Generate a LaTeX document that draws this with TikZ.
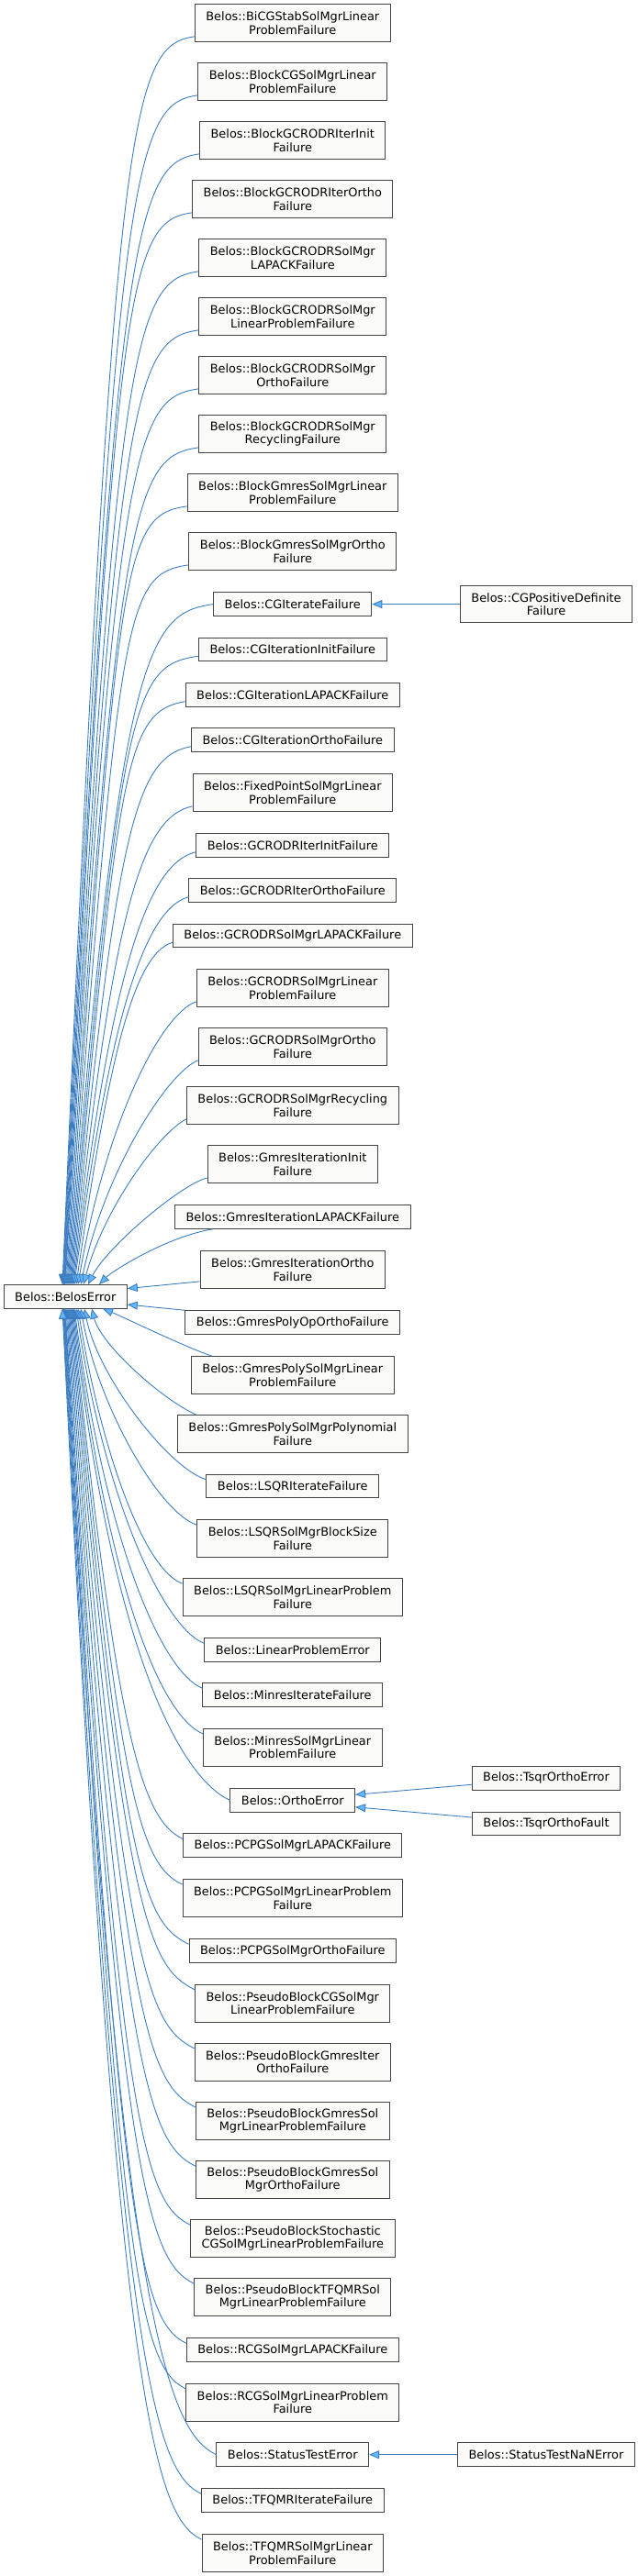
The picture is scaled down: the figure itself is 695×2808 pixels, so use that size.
\documentclass[tikz,border=0pt]{standalone}
\usepackage{fontspec}
\setmainfont{DejaVu Sans}
\usetikzlibrary{arrows.meta,calc}
\definecolor{edgeblue}{HTML}{3C7CC0}
\definecolor{headblue}{HTML}{63B8FF}
\definecolor{nodeborder}{HTML}{444444}
\definecolor{nodefill}{HTML}{FAFBF9}
\newcommand\beedge[7]{%
  \coordinate (tS) at #1;
  \coordinate (tX) at (#3,0);
  \coordinate (tE) at (be.#2 -| tX);
  \draw[inh] (tS) .. controls ($(tS)+(#4,#5)$) and ($(tE)+(#6,#7)$) .. (tE);%
}
\begin{document}
\begin{tikzpicture}[x=1pt,y=1pt,
  cls/.style={draw=nodeborder, fill=nodefill, line width=1pt, inner xsep=12pt, inner ysep=0pt,
    minimum height=25.5pt, align=center, font={\fontsize{12.9pt}{14.7pt}\selectfont}},
  cls2/.style={cls, minimum height=40.7pt},
  inh/.style={draw=edgeblue, line width=0.9pt, -{Triangle[length=11pt,width=9pt,fill=headblue]}}]
\useasboundingbox (0,0) rectangle (695,-2808);
% main column
\node[cls2] (c1) at (318.8,-25) {Belos::BiCGStabSolMgrLinear\\ProblemFailure};
\node[cls2] (c2) at (318.8,-89) {Belos::BlockCGSolMgrLinear\\ProblemFailure};
\node[cls2] (c3) at (318.8,-153) {Belos::BlockGCRODRIterInit\\Failure};
\node[cls2] (c4) at (318.8,-217) {Belos::BlockGCRODRIterOrtho\\Failure};
\node[cls2] (c5) at (318.8,-281) {Belos::BlockGCRODRSolMgr\\LAPACKFailure};
\node[cls2] (c6) at (318.8,-345) {Belos::BlockGCRODRSolMgr\\LinearProblemFailure};
\node[cls2] (c7) at (318.8,-409) {Belos::BlockGCRODRSolMgr\\OrthoFailure};
\node[cls2] (c8) at (318.8,-473) {Belos::BlockGCRODRSolMgr\\RecyclingFailure};
\node[cls2] (c9) at (318.8,-537) {Belos::BlockGmresSolMgrLinear\\ProblemFailure};
\node[cls2] (c10) at (318.8,-601) {Belos::BlockGmresSolMgrOrtho\\Failure};
\node[cls] (c11) at (318.8,-658.6) {Belos::CGIterateFailure};
\node[cls2] (r11) at (595,-658.6) {Belos::CGPositiveDefinite\\Failure};
\node[cls] (c12) at (318.8,-708) {Belos::CGIterationInitFailure};
\node[cls] (c13) at (318.8,-757.5) {Belos::CGIterationLAPACKFailure};
\node[cls] (c14) at (318.8,-806.5) {Belos::CGIterationOrthoFailure};
\node[cls2] (c15) at (318.8,-864) {Belos::FixedPointSolMgrLinear\\ProblemFailure};
\node[cls] (c16) at (318.8,-921.5) {Belos::GCRODRIterInitFailure};
\node[cls] (c17) at (318.8,-970.5) {Belos::GCRODRIterOrthoFailure};
\node[cls] (c18) at (318.8,-1020) {Belos::GCRODRSolMgrLAPACKFailure};
\node[cls2] (c19) at (318.8,-1077) {Belos::GCRODRSolMgrLinear\\ProblemFailure};
\node[cls2] (c20) at (318.8,-1141) {Belos::GCRODRSolMgrOrtho\\Failure};
\node[cls2] (c21) at (318.8,-1205) {Belos::GCRODRSolMgrRecycling\\Failure};
\node[cls2] (c22) at (318.8,-1269) {Belos::GmresIterationInit\\Failure};
\node[cls] (c23) at (318.8,-1326.5) {Belos::GmresIterationLAPACKFailure};
\node[cls2] (c24) at (318.8,-1384) {Belos::GmresIterationOrtho\\Failure};
\node[cls] (be) at (71.3,-1413.3) {Belos::BelosError};
\node[cls] (c25) at (318.8,-1441.5) {Belos::GmresPolyOpOrthoFailure};
\node[cls2] (c26) at (318.8,-1499) {Belos::GmresPolySolMgrLinear\\ProblemFailure};
\node[cls2] (c27) at (318.8,-1563) {Belos::GmresPolySolMgrPolynomial\\Failure};
\node[cls] (c28) at (318.8,-1620) {Belos::LSQRIterateFailure};
\node[cls2] (c29) at (318.8,-1677) {Belos::LSQRSolMgrBlockSize\\Failure};
\node[cls2] (c30) at (318.8,-1741) {Belos::LSQRSolMgrLinearProblem\\Failure};
\node[cls] (c31) at (318.8,-1798.5) {Belos::LinearProblemError};
\node[cls] (c32) at (318.8,-1847.5) {Belos::MinresIterateFailure};
\node[cls2] (c33) at (318.8,-1904.7) {Belos::MinresSolMgrLinear\\ProblemFailure};
\node[cls] (r33a) at (595,-1938.3) {Belos::TsqrOrthoError};
\node[cls] (c34) at (318.8,-1962.3) {Belos::OrthoError};
\node[cls] (r34b) at (595,-1988) {Belos::TsqrOrthoFault};
\node[cls] (c35) at (318.8,-2011.7) {Belos::PCPGSolMgrLAPACKFailure};
\node[cls2] (c36) at (318.8,-2069) {Belos::PCPGSolMgrLinearProblem\\Failure};
\node[cls] (c37) at (318.8,-2126.5) {Belos::PCPGSolMgrOrthoFailure};
\node[cls2] (c38) at (318.8,-2183.7) {Belos::PseudoBlockCGSolMgr\\LinearProblemFailure};
\node[cls2] (c39) at (318.8,-2247.7) {Belos::PseudoBlockGmresIter\\OrthoFailure};
\node[cls2] (c40) at (318.8,-2311.8) {Belos::PseudoBlockGmresSol\\MgrLinearProblemFailure};
\node[cls2] (c41) at (318.8,-2376) {Belos::PseudoBlockGmresSol\\MgrOrthoFailure};
\node[cls2] (c42) at (318.8,-2440) {Belos::PseudoBlockStochastic\\CGSolMgrLinearProblemFailure};
\node[cls2] (c43) at (318.8,-2504) {Belos::PseudoBlockTFQMRSol\\MgrLinearProblemFailure};
\node[cls] (c44) at (318.8,-2561.5) {Belos::RCGSolMgrLAPACKFailure};
\node[cls2] (c45) at (318.8,-2618.7) {Belos::RCGSolMgrLinearProblem\\Failure};
\node[cls] (c46) at (318.8,-2675.7) {Belos::StatusTestError};
\node[cls] (r46) at (595,-2675.7) {Belos::StatusTestNaNError};
\node[cls] (c47) at (318.8,-2725.5) {Belos::TFQMRIterateFailure};
\node[cls2] (c48) at (318.8,-2783) {Belos::TFQMRSolMgrLinear\\ProblemFailure};
% edges from above
\beedge{($(c1.south west)+(0,6)$)}{north}{68}{-70}{-10}{56}{1280}
\beedge{($(c2.south west)+(0,6)$)}{north}{68.5}{-70}{-10}{56}{1220}
\beedge{($(c3.south west)+(0,6)$)}{north}{69}{-70}{-10}{56}{1159}
\beedge{($(c4.south west)+(0,6)$)}{north}{69.5}{-70}{-10}{56}{1099}
\beedge{($(c5.south west)+(0,6)$)}{north}{70}{-70}{-10}{56}{1039}
\beedge{($(c6.south west)+(0,6)$)}{north}{70.5}{-70}{-10}{56}{979}
\beedge{($(c7.south west)+(0,6)$)}{north}{71}{-70}{-10}{56}{919}
\beedge{($(c8.south west)+(0,6)$)}{north}{72}{-70}{-10}{56}{859}
\beedge{($(c9.south west)+(0,6)$)}{north}{73}{-70}{-10}{56}{798}
\beedge{($(c10.south west)+(0,6)$)}{north}{74}{-70}{-10}{56}{738}
\beedge{(c11.west)}{north}{75}{-70}{-10}{56}{698}
\beedge{($(c12.south west)+(0,6)$)}{north}{76}{-70}{-10}{56}{644}
\beedge{($(c13.south west)+(0,6)$)}{north}{77}{-66}{-10.6}{52.4}{566}
\beedge{($(c14.south west)+(0,6)$)}{north}{78}{-62}{-11}{49}{493}
\beedge{($(c15.south west)+(0,6)$)}{north}{79}{-57}{-12}{44}{404}
\beedge{($(c16.south west)+(0,6)$)}{north}{80}{-53}{-12}{41}{341}
\beedge{($(c17.south west)+(0,6)$)}{north}{81}{-49}{-13}{37.5}{284}
\beedge{($(c18.south west)+(0,6)$)}{north}{83}{-45}{-13.5}{34}{232}
\beedge{($(c19.south west)+(0,6)$)}{north}{85}{-40}{-14}{29.5}{172}
\beedge{($(c20.south west)+(0,6)$)}{north}{88}{-35}{-15}{25}{120}
\beedge{($(c21.south west)+(0,6)$)}{north}{91}{-30}{-15}{22}{82}
\beedge{($(c22.south west)+(0,6)$)}{north}{96}{-30}{-8}{20}{40}
\beedge{($(c23.south west)+(42,0)$)}{north}{108}{-50}{-8}{15}{15}
\draw[inh] ($(c24.south west)+(0,8)$) -- ($(be.north east)+(0,-4.5)$);
\draw[inh] (c25.north west) -- ($(be.south east)+(0,4.5)$);
% edges from below
\beedge{($(c26.north west)+(23,0)$)}{south}{112}{-30}{10}{20}{-8}
\beedge{($(c27.north west)+(21,0)$)}{south}{100}{-35}{15}{10}{-40}
\beedge{($(c28.north west)+(0,-6)$)}{south}{92}{-40}{12}{15}{-75}
\beedge{($(c29.north west)+(0,-6)$)}{south}{88}{-41}{13}{19}{-106}
\beedge{($(c30.north west)+(0,-6)$)}{south}{85}{-42}{15}{25}{-154}
\beedge{($(c31.north west)+(0,-6)$)}{south}{83}{-43.5}{16.5}{31}{-210}
\beedge{($(c32.north west)+(0,-6)$)}{south}{81}{-44}{18}{35}{-258}
\beedge{($(c33.north west)+(0,-6)$)}{south}{80}{-45}{19}{39}{-311}
\beedge{(c34.west)}{south}{79}{-47}{21}{46}{-397}
\beedge{($(c35.north west)+(0,-6)$)}{south}{78}{-48}{22}{49}{-452}
\beedge{($(c36.north west)+(0,-6)$)}{south}{77}{-49}{23}{54}{-522}
\beedge{($(c37.north west)+(0,-6)$)}{south}{76}{-50}{25}{60}{-620}
\beedge{($(c38.north west)+(0,-6)$)}{south}{75}{-50}{25}{60}{-669}
\beedge{($(c39.north west)+(0,-6)$)}{south}{74}{-50}{25}{60}{-727}
\beedge{($(c40.north west)+(0,-6)$)}{south}{73}{-50}{25}{60}{-784}
\beedge{($(c41.north west)+(0,-6)$)}{south}{72}{-50}{25}{60}{-842}
\beedge{($(c42.north west)+(0,-6)$)}{south}{71}{-50}{25}{60}{-900}
\beedge{($(c43.north west)+(0,-6)$)}{south}{70.5}{-50}{25}{60}{-957}
\beedge{($(c44.north west)+(0,-6)$)}{south}{70}{-50}{25}{60}{-1016}
\beedge{($(c45.north west)+(0,-6)$)}{south}{69.5}{-50}{25}{60}{-1060}
\beedge{(c46.west)}{south}{69}{-50}{25}{60}{-1125}
\beedge{($(c47.north west)+(0,-6)$)}{south}{68.5}{-50}{25}{60}{-1163}
\beedge{($(c48.north west)+(0,-6)$)}{south}{68}{-50}{25}{60}{-1208}
% right column edges
\draw[inh] (r11.west) -- (c11.east);
\draw[inh] ($(r33a.west)+(0,-7)$) -- ($(c34.east)+(0,6)$);
\draw[inh] ($(r34b.west)+(0,7)$) -- ($(c34.east)+(0,-7.5)$);
\draw[inh] (r46.west) -- (c46.east);
\end{tikzpicture}
\end{document}
